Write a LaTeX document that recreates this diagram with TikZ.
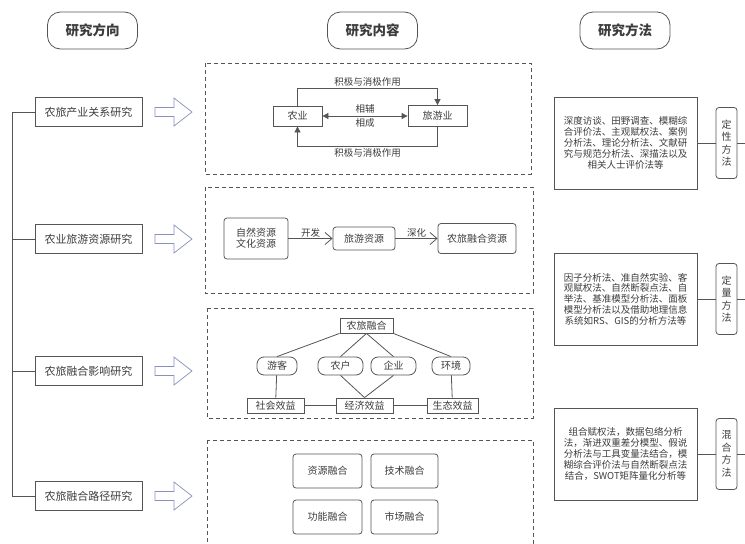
\documentclass[tikz,border=0pt]{standalone}
\usepackage{fontspec}
\setmainfont{Noto Sans CJK SC}
\usetikzlibrary{arrows.meta}
\definecolor{linegray}{RGB}{85,85,85}
\definecolor{textgray}{RGB}{60,60,60}
\definecolor{arrowblue}{RGB}{135,145,185}

\begin{document}
\begin{tikzpicture}[x=1pt,y=-1pt,line width=0.8pt,every node/.style={text=textgray}]
	\tikzstyle{head}=[draw=linegray,rounded corners=13pt,minimum width=90pt,minimum height=37pt,font=\fontsize{13.5}{15}\selectfont\bfseries]
	\tikzstyle{topic}=[draw=linegray,minimum width=107pt,minimum height=29pt,font=\fontsize{11}{13}\selectfont]
	\tikzstyle{panel}=[draw=linegray,dash pattern=on 4pt off 3pt]
	\tikzstyle{sbox}=[draw=linegray,inner sep=0pt,font=\fontsize{10}{11}\selectfont]
	\tikzstyle{pill}=[sbox,rounded corners=7pt,minimum height=18pt]
	\tikzstyle{rbox}=[sbox,rounded corners=3pt]
	\tikzstyle{txt}=[font=\fontsize{9.5}{11}\selectfont,inner sep=2pt]
	\tikzstyle{link}=[draw=linegray]
	\tikzstyle{tri}=[link,-{Triangle[length=6pt,width=6pt]}]
	\tikzstyle{barb}=[link,-{Straight Barb[length=7pt,width=12pt]}]
	\tikzstyle{hollow}=[draw=arrowblue,line width=0.7pt,fill=white]
	\tikzstyle{methtext}=[draw=linegray,minimum width=143pt,minimum height=92pt,align=center,font=\fontsize{9.5}{10.8}\selectfont]
	\tikzstyle{methlabel}=[draw=linegray,rounded corners=3pt,minimum width=21pt,minimum height=71pt,inner sep=0pt,align=center,font=\fontsize{10}{12.5}\selectfont]
	\useasboundingbox (0,0) rectangle (745,544);
	\clip (0,0) rectangle (745,544);
	% headings
	\node (dirhead) at (92.5,30.5) [head] {研究方向};
	\node (conthead) at (372.5,30.5) [head] {研究内容};
	\node (methhead) at (625,30.5) [head] {研究方法};
	% research directions
	\node (relation) at (88.5,112) [topic] {农旅产业关系研究};
	\node (resource) at (88.5,239) [topic] {农业旅游资源研究};
	\node (impact) at (88.5,371) [topic] {农旅融合影响研究};
	\node (route) at (88.5,496) [topic] {农旅融合路径研究};
	\draw [link] (relation.west) -- ++(-22,0) |- (route.west);
	\draw [link] (resource.west) -- ++(-22,0);
	\draw [link] (impact.west) -- ++(-22,0);
	\foreach \y in {112,239,371,496}
		\draw [hollow] (155,\y) ++(0,-4.5) -- ++(19,0) -- ++(0,-9.5) -- ++(18,14) -- ++(-18,14) -- ++(0,-9.5) -- ++(-19,0) -- cycle;
	% industry relation
	\draw [panel] (205,63) rectangle (531,174);
	\node (agri) at (297.5,116) [sbox,minimum width=49pt,minimum height=20pt] {农业};
	\node (tour) at (437.5,116) [sbox,minimum width=59pt,minimum height=21pt] {旅游业};
	\draw [link,{Triangle[length=6pt,width=6pt]}-{Triangle[length=6pt,width=6pt]}] (agri) -- (tour)
		node [txt,midway,above] {相辅} node [txt,midway,below] {相成};
	\draw [tri] (agri.north) -- ++(0,-17) -| node [txt,pos=0.25,above] {积极与消极作用} (tour.north);
	\draw [tri] (tour.south) -- ++(0,19) -| node [txt,pos=0.25,below] {积极与消极作用} (agri.south);
	% resources
	\draw [panel] (205,187) rectangle (533,293);
	\node (natres) at (256,238.5) [rbox,minimum width=64pt,minimum height=41pt,align=center] {自然资源\\文化资源};
	\node (tourres) at (364,238.5) [rbox,minimum width=62pt,minimum height=23pt] {旅游资源};
	\node (fusres) at (477,238.5) [rbox,minimum width=78pt,minimum height=30pt] {农旅融合资源};
	\draw [barb] (natres) -- node [txt,above,inner sep=0.5pt] {开发} (tourres);
	\draw [barb] (tourres) -- node [txt,above,inner sep=0.5pt] {深化} (fusres);
	% impact
	\draw [panel] (207,308) rectangle (533,418);
	\node (fusion) at (366.5,325.5) [sbox,minimum width=53pt,minimum height=15pt] {农旅融合};
	\node (tourist) at (277,366) [pill,minimum width=40pt] {游客};
	\node (farmer) at (340.5,366) [pill,minimum width=45pt] {农户};
	\node (firm) at (393.5,366) [pill,minimum width=45pt] {企业};
	\node (envir) at (451,366) [pill,minimum width=38pt] {环境};
	\node (social) at (275.5,405.5) [sbox,minimum width=57pt,minimum height=15pt] {社会效益};
	\node (econ) at (364.5,405.5) [sbox,minimum width=57pt,minimum height=15pt] {经济效益};
	\node (ecol) at (452.5,405.5) [sbox,minimum width=51pt,minimum height=15pt] {生态效益};
	\draw [link] (fusion.south west) -- (tourist.north);
	\draw [link] (fusion.south) -- (farmer.north);
	\draw [link] (fusion.south) -- (firm.north);
	\draw [link] (fusion.south east) -- (envir.north);
	\draw [link] (tourist) -- (social);
	\draw [link] (farmer.south) -- (econ.north);
	\draw [link] (firm.south) -- (econ.north);
	\draw [link] (envir) -- (ecol);
	\draw [link] (social) -- (econ);
	\draw [link] (econ) -- (ecol);
	% paths
	\draw [panel] (207,440) rectangle (533,560);
	\node (resfus) at (327.5,471) [rbox,minimum width=69pt,minimum height=34pt] {资源融合};
	\node (techfus) at (404.5,471) [rbox,minimum width=67pt,minimum height=34pt] {技术融合};
	\node (funcfus) at (327.5,517) [rbox,minimum width=69pt,minimum height=34pt] {功能融合};
	\node (markfus) at (404.5,517) [rbox,minimum width=67pt,minimum height=34pt] {市场融合};
	% methods
	\node (qualtext) at (625.5,143) [methtext] {深度访谈、田野调查、模糊综\\合评价法、主观赋权法、案例\\分析法、理论分析法、文献研\\究与规范分析法、深描法以及\\相关人士评价法等};
	\node (qualname) at (726.5,143) [methlabel] {定\\性\\方\\法};
	\node (quanttext) at (625.5,299) [methtext] {因子分析法、准自然实验、客\\观赋权法、自然断裂点法、自\\举法、基准模型分析法、面板\\模型分析法以及借助地理信息\\系统如RS、GIS的分析方法等};
	\node (quantname) at (726.5,299) [methlabel] {定\\量\\方\\法};
	\node (mixtext) at (625.5,454) [methtext] {组合赋权法，数据包络分析\\法，渐进双重差分模型、假说\\分析法与工具变量法结合，模\\糊综合评价法与自然断裂点法\\结合，SWOT矩阵量化分析等};
	\node (mixname) at (726.5,454) [methlabel] {混\\合\\方\\法};
	\draw [link] (qualtext) -- (qualname);
	\draw [link] (quanttext) -- (quantname);
	\draw [link] (mixtext) -- (mixname);
	\draw [link] (qualname.east) -- ++(12,0);
	\draw [link] (quantname.east) -- ++(12,0);
	\draw [link] (mixname.east) -- ++(12,0);
\end{tikzpicture}
\end{document}
